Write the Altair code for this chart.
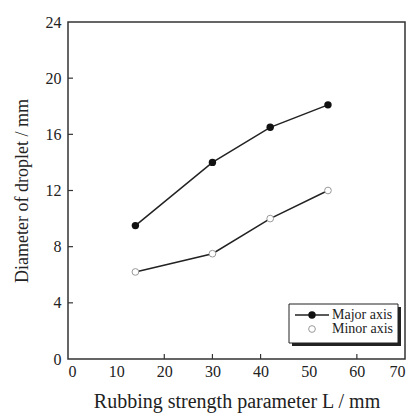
import altair as alt
import pandas as pd

# Droplet diameters versus rubbing strength parameter
rubbing_L = [14, 30, 42, 54]
major_axis = [9.5, 14.0, 16.5, 18.1]
minor_axis = [6.2, 7.5, 10.0, 12.0]

series_names = ["Major axis", "Minor axis"]
legend_labels = ["Major axis", "Minor axis"]

x_ticks = [20, 30, 40, 60]
y_ticks = [4, 8, 12, 16, 20]
x_labels = [0, 10, 20, 30, 40, 50, 60, 70]
y_labels = [0, 4, 8, 12, 16, 20, 24]

FONT = "Liberation Serif"
W, H = 337, 337

major_df = pd.DataFrame({"L": rubbing_L, "d": major_axis, "series": series_names[0]})
minor_df = pd.DataFrame({"L": rubbing_L, "d": minor_axis, "series": series_names[1]})
xtick_df = pd.DataFrame({"L": x_ticks})
ytick_df = pd.DataFrame({"d": y_ticks})

x_scale = alt.Scale(domain=[0, 70], nice=False)
y_scale = alt.Scale(domain=[0, 24], nice=False)

x_enc = alt.X(
    "L:Q", scale=x_scale,
    axis=alt.Axis(values=x_labels, title="Rubbing strength parameter L / mm",
                  labelPadding=4, titlePadding=12, titleFontSize=20),
)
y_enc = alt.Y(
    "d:Q", scale=y_scale,
    axis=alt.Axis(values=y_labels, title="Diameter of droplet / mm",
                  labelPadding=7, titlePadding=14, titleFontSize=18),
)

major_line = alt.Chart(major_df).mark_line(color="#222", strokeWidth=1.5).encode(x=x_enc, y=y_enc)
minor_line = alt.Chart(minor_df).mark_line(color="#222", strokeWidth=1.5).encode(x=x_enc, y=y_enc)
major_pts = alt.Chart(major_df).mark_point(
    shape="circle", filled=True, color="#111", size=55, opacity=1
).encode(x=x_enc, y=y_enc)
minor_pts = alt.Chart(minor_df).mark_point(
    shape="circle", filled=True, fill="white", stroke="#999", strokeWidth=1, size=45, opacity=1
).encode(x=x_enc, y=y_enc)

# Inward tick marks
xt = alt.Chart(xtick_df).mark_rule(color="#333", strokeWidth=1.2).encode(
    x=x_enc, y=alt.value(H - 5), y2=alt.value(H)
)
yt = alt.Chart(ytick_df).mark_rule(color="#333", strokeWidth=1.2).encode(
    y=y_enc, x=alt.value(0), x2=alt.value(5)
)

# Legend box with drop shadow
one = pd.DataFrame({"k": [0]})
shadow = alt.Chart(one).mark_rect(color="#222").encode(
    x=alt.value(224), x2=alt.value(333), y=alt.value(285), y2=alt.value(324)
)
box = alt.Chart(one).mark_rect(fill="white", stroke="#222", strokeWidth=1).encode(
    x=alt.value(221), x2=alt.value(330), y=alt.value(282), y2=alt.value(321)
)
leg_line = alt.Chart(one).mark_rule(color="#222", strokeWidth=1.5).encode(
    x=alt.value(227), x2=alt.value(261), y=alt.value(293)
)
leg_major = alt.Chart(one).mark_point(
    shape="circle", filled=True, color="#111", size=55, opacity=1
).encode(x=alt.value(244), y=alt.value(293))
leg_minor = alt.Chart(one).mark_point(
    shape="circle", filled=True, fill="white", stroke="#999", strokeWidth=1, size=45, opacity=1
).encode(x=alt.value(244), y=alt.value(307))
leg_text1 = alt.Chart(pd.DataFrame({"label": [legend_labels[0]]})).mark_text(
    font=FONT, fontSize=14, align="left", baseline="middle", color="#222"
).encode(text="label:N", x=alt.value(264), y=alt.value(293))
leg_text2 = alt.Chart(pd.DataFrame({"label": [legend_labels[1]]})).mark_text(
    font=FONT, fontSize=14, align="left", baseline="middle", color="#222"
).encode(text="label:N", x=alt.value(264), y=alt.value(307))

chart = alt.layer(
    major_line, minor_line, major_pts, minor_pts, xt, yt,
    shadow, box, leg_line, leg_major, leg_minor, leg_text1, leg_text2,
).properties(
    width=W, height=H,
    autosize=alt.AutoSizeParams(type="none"),
    padding={"left": 68, "top": 22, "right": 9, "bottom": 54},
    background="white",
).configure_view(
    stroke="#333", strokeWidth=1.5
).configure_axis(
    domain=False, ticks=False, grid=False,
    labelFont=FONT, labelFontSize=16, labelColor="#222",
    titleFont=FONT, titleFontWeight="normal", titleColor="#222",
)

chart.save("out.html", embed_options={"renderer": "svg", "actions": False})
